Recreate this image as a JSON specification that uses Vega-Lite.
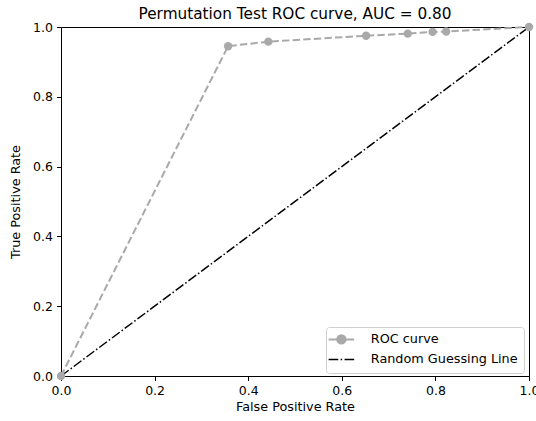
{
  "$schema": "https://vega.github.io/schema/vega-lite/v6.json",
  "width": 468,
  "height": 349,
  "autosize": {"type": "none"},
  "padding": {"left": 61, "top": 27, "right": 7, "bottom": 45},
  "background": "white",
  "title": {
    "text": "Permutation Test ROC curve, AUC = 0.80",
    "font": "DejaVu Sans",
    "fontSize": 15.3,
    "fontWeight": "normal",
    "color": "black",
    "offset": 7,
    "dy": 8
  },
  "config": {
    "view": {"stroke": "black", "strokeWidth": 1},
    "axis": {
      "grid": false,
      "domainColor": "black",
      "tickColor": "black",
      "tickSize": 4.5,
      "labelPadding": 4,
      "labelFlush": false,
      "labelColor": "black",
      "labelFont": "DejaVu Sans",
      "labelFontSize": 12.5,
      "titleFont": "DejaVu Sans",
      "titleFontSize": 12.8,
      "titleFontWeight": "normal",
      "titleColor": "black"
    },
    "legend": {
      "labelFont": "DejaVu Sans",
      "labelFontSize": 12.8,
      "labelColor": "black"
    }
  },
  "data": {
    "values": [
      {"series": "ROC curve", "fpr": 0.0, "tpr": 0.0},
      {"series": "ROC curve", "fpr": 0.357, "tpr": 0.945},
      {"series": "ROC curve", "fpr": 0.443, "tpr": 0.958},
      {"series": "ROC curve", "fpr": 0.652, "tpr": 0.975},
      {"series": "ROC curve", "fpr": 0.741, "tpr": 0.981},
      {"series": "ROC curve", "fpr": 0.794, "tpr": 0.986},
      {"series": "ROC curve", "fpr": 0.823, "tpr": 0.987},
      {"series": "ROC curve", "fpr": 1.0, "tpr": 1.0},
      {"series": "Random Guessing Line", "fpr": 0.0, "tpr": 0.0},
      {"series": "Random Guessing Line", "fpr": 1.0, "tpr": 1.0}
    ]
  },
  "encoding": {
    "x": {
      "field": "fpr", "type": "quantitative",
      "scale": {"domain": [0, 1], "nice": false, "zero": false},
      "axis": {"title": "False Positive Rate", "format": ".1f", "values": [0, 0.2, 0.4, 0.6, 0.8, 1.0], "titlePadding": 3}
    },
    "y": {
      "field": "tpr", "type": "quantitative",
      "scale": {"domain": [0, 1], "nice": false, "zero": false},
      "axis": {"title": "True Positive Rate", "format": ".1f", "values": [0, 0.2, 0.4, 0.6, 0.8, 1.0], "titlePadding": 10}
    },
    "color": {
      "field": "series", "type": "nominal",
      "scale": {"domain": ["ROC curve", "Random Guessing Line"], "range": ["#a9a9a9", "#000000"]},
      "legend": {
        "title": null,
        "orient": "none",
        "legendX": 265,
        "legendY": 300,
        "fillColor": "white",
        "strokeColor": "#d0d0d0",
        "cornerRadius": 3,
        "padding": 6,
        "rowPadding": 5,
        "symbolType": "stroke",
        "symbolSize": 650,
        "symbolStrokeWidth": 1.8,
        "symbolOffset": 3,
        "labelOffset": 23,
        "encode": {
          "symbols": {
            "update": {
              "shape": {"signal": "datum.value === 'ROC curve' ? 'M-1,0H1M-0.33,0A0.33,0.33,0,1,1,0.33,0A0.33,0.33,0,1,1,-0.33,0Z' : 'stroke'"},
              "fill": {"signal": "datum.value === 'ROC curve' ? '#a9a9a9' : 'transparent'"},
              "fillOpacity": {"value": 1},
              "strokeDash": {"signal": "datum.value === 'ROC curve' ? [] : [9.6, 2.4, 1.5, 2.4]"},
              "strokeWidth": {"signal": "datum.value === 'ROC curve' ? 2 : 1.5"}
            }
          }
        }
      }
    }
  },
  "layer": [
    {
      "transform": [{"filter": "datum.series === 'Random Guessing Line'"}],
      "mark": {"type": "line", "strokeWidth": 1.5, "strokeDash": [9.6, 2.4, 1.5, 2.4], "clip": false},
      "encoding": {}
    },
    {
      "transform": [{"filter": "datum.series === 'ROC curve'"}],
      "mark": {"type": "line", "strokeWidth": 2, "strokeDash": [7.4, 3.2], "clip": false},
      "encoding": {}
    },
    {
      "transform": [{"filter": "datum.series === 'ROC curve'"}],
      "mark": {"type": "point", "filled": true, "opacity": 1, "size": 70, "shape": "circle", "clip": false},
      "encoding": {}
    }
  ]
}
